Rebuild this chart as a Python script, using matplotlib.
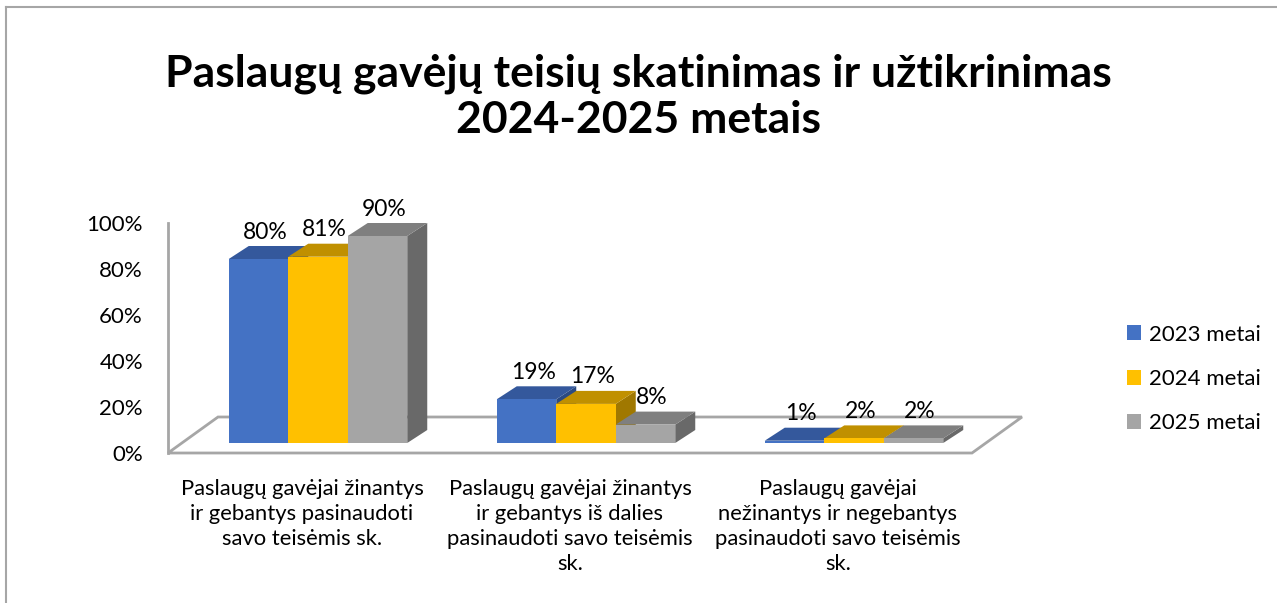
import matplotlib.pyplot as plt
from matplotlib.patches import Polygon, Patch

plt.rcParams['font.family'] = ['Lato', 'DejaVu Sans']

## Data

categories = ["Paslaugų gavėjai žinantys\nir gebantys pasinaudoti\nsavo teisėmis sk.",
              "Paslaugų gavėjai žinantys\nir gebantys iš dalies\npasinaudoti savo teisėmis\nsk.",
              "Paslaugų gavėjai\nnežinantys ir negebantys\npasinaudoti savo teisėmis\nsk."]
series = ["2023 metai", "2024 metai", "2025 metai"]
v2023 = [80, 19, 1]
v2024 = [81, 17, 2]
v2025 = [90, 8, 2]
yticks = [0, 20, 40, 60, 80, 100]

values = [v2023, v2024, v2025]
front = ["#4472C4", "#FFC000", "#A5A5A5"]
top = ["#34589C", "#C09000", "#7F7F7F"]
side = ["#2B4A82", "#A07800", "#696969"]

## Plotting

W, H = 1277, 603
fig = plt.figure(figsize=(W / 100, H / 100), dpi=100)
ax = fig.add_axes([168 / W, (H - 453) / H, 804 / W, 230 / H])
ax.set_xlim(-0.5, 2.5)
ax.set_ylim(0, 100)

pxx = 804 / 3.0      # px per category
pxy = 2.3            # px per percent
fdx, fdy = 50 / pxx, 36 / pxy    # floor depth
ox, oy = 16 / pxx, 10 / pxy      # bar offset from front
bdx, bdy = 20 / pxx, 13 / pxy    # bar depth
bw = 59.5 / pxx

edge = "#A6A6A6"
floor = Polygon([(-0.5, 0), (2.5, 0), (2.5 + fdx, fdy), (-0.5 + fdx, fdy)],
                closed=True, facecolor="white", edgecolor=edge, lw=2, clip_on=False, zorder=1)
ax.add_patch(floor)

for i in range(len(categories)):
    for j in range(len(series)):
        v = values[j][i]
        x0 = i + ox - 1.5 * bw + j * bw
        x1 = x0 + bw
        y0 = oy
        y1 = oy + v
        ax.add_patch(Polygon([(x1, y0), (x1 + bdx, y0 + bdy), (x1 + bdx, y1 + bdy), (x1, y1)],
                             facecolor=side[j], edgecolor="none", clip_on=False, zorder=2))
        ax.add_patch(Polygon([(x0, y1), (x1, y1), (x1 + bdx, y1 + bdy), (x0 + bdx, y1 + bdy)],
                             facecolor=top[j], edgecolor="none", clip_on=False, zorder=2))
        ax.bar(x0, v, width=bw, bottom=y0, align="edge", color=front[j], zorder=2, clip_on=False)
        ax.text(x0 + bw / 2 + bdx / 3, y1 + bdy + 1.5, f"{v}%", ha="center", va="bottom",
                fontsize=16.5, color="black", zorder=3)

for s in ["top", "right", "bottom"]:
    ax.spines[s].set_visible(False)
ax.spines["left"].set_color(edge)
ax.spines["left"].set_linewidth(2)
ax.set_yticks(yticks)
ax.set_yticklabels([f"{t}%" for t in yticks])
ax.tick_params(axis="y", length=0, pad=18, labelsize=16)
ax.set_xticks(range(len(categories)))
ax.set_xticklabels(categories, linespacing=1.3)
ax.tick_params(axis="x", length=0, pad=19, labelsize=15.8)

fig.text(0.5, 1 - 97 / H, "Paslaugų gavėjų teisių skatinimas ir užtikrinimas\n2024-2025 metais",
         ha="center", va="center", fontsize=32, fontweight="bold", linespacing=1.17)

handles = [Patch(facecolor=c) for c in front]
fig.legend(handles, series, loc="center left", bbox_to_anchor=(1107 / W, 1 - 379 / H),
           frameon=False, fontsize=16, handlelength=0.65, handleheight=0.65,
           labelspacing=1.1, handletextpad=0.35)

# chart border
fig.add_artist(plt.Line2D([6 / W, 1], [1 - 7 / H, 1 - 7 / H], color=edge, lw=1.5))
fig.add_artist(plt.Line2D([6 / W, 6 / W], [0, 1 - 7 / H], color=edge, lw=1.5))

plt.savefig("out.png")
